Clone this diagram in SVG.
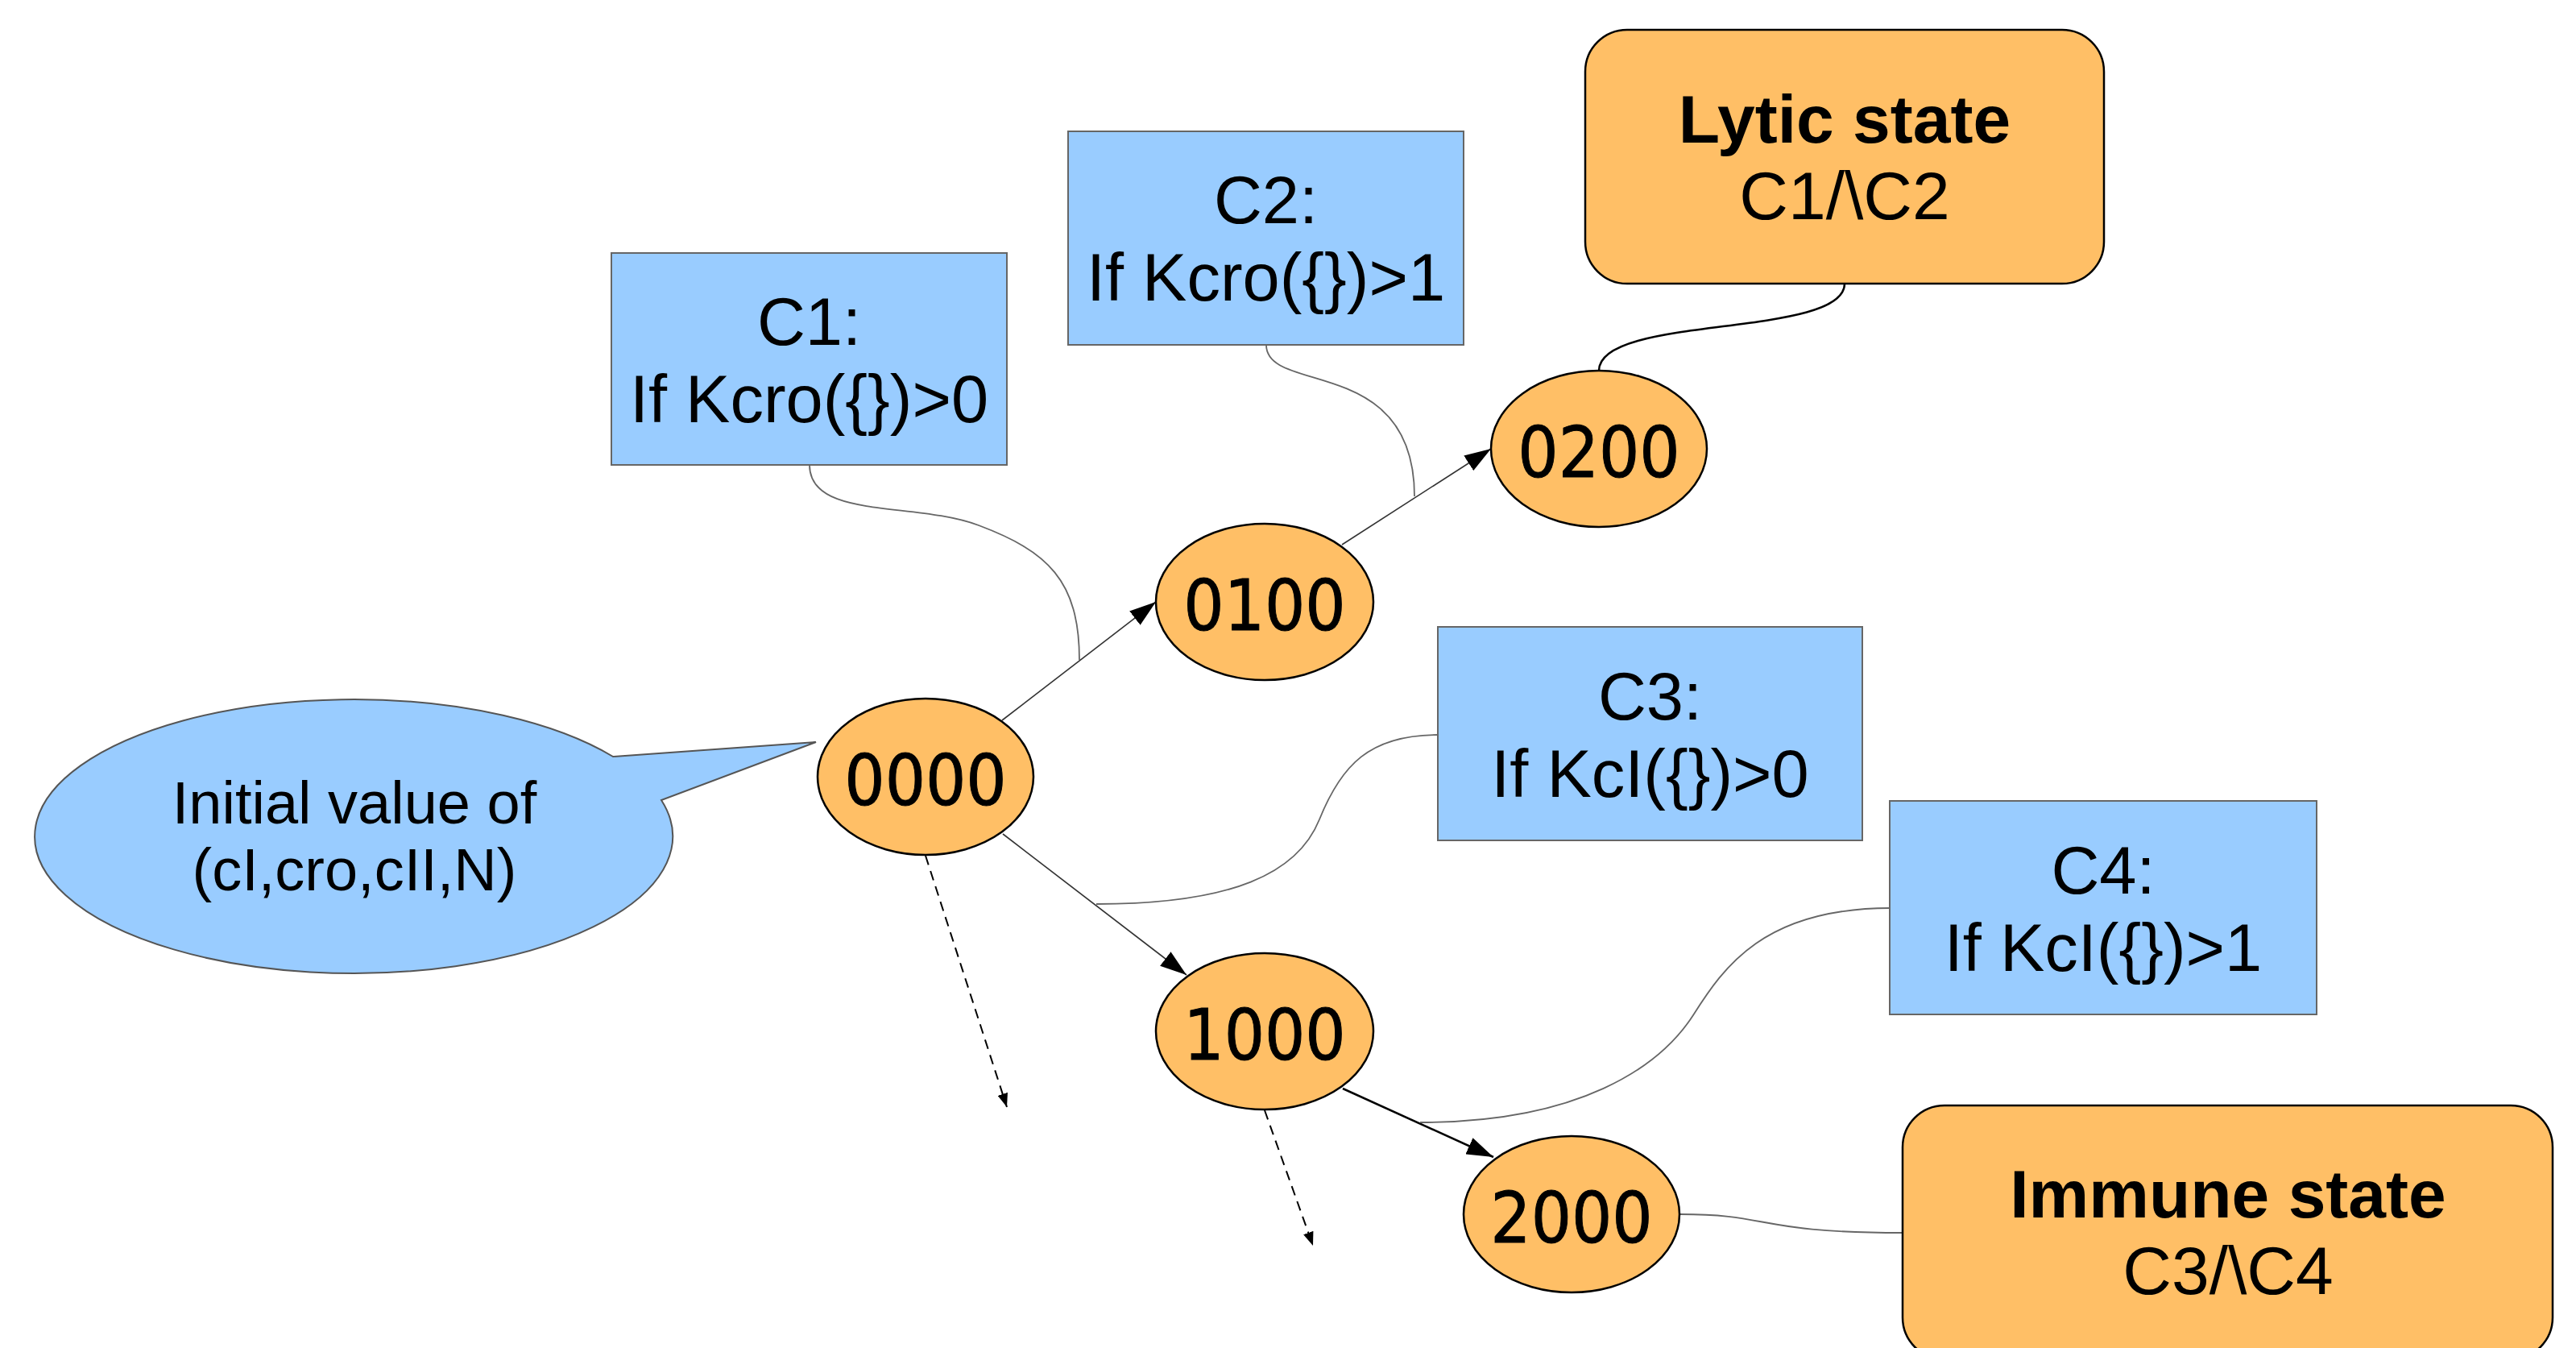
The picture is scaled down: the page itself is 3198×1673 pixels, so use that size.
<svg xmlns="http://www.w3.org/2000/svg" width="3198" height="1673" viewBox="0 0 3198 1673">
  <style>
    .cond { fill: #99ccff; stroke: #666666; stroke-width: 2; }
    .state { fill: #ffbf66; stroke: #000000; stroke-width: 2.5; }
    .node { fill: #ffbf66; stroke: #000000; stroke-width: 2.5; }
    .bubble { fill: #99ccff; stroke: #555555; stroke-width: 2; }
    .t { font-family: "Liberation Sans", Arial, sans-serif; font-size: 83px; fill: #000; text-anchor: middle; }
    .tb { font-family: "Liberation Sans", Arial, sans-serif; font-size: 84px; font-weight: bold; fill: #000; text-anchor: middle; }
    .tbub { font-family: "Liberation Sans", Arial, sans-serif; font-size: 74px; fill: #000; text-anchor: middle; }
    .num { font-family: "DejaVu Sans Condensed", "DejaVu Sans", sans-serif; font-stretch: condensed; font-size: 88px; fill: #000; stroke: #000; stroke-width: 0.9; text-anchor: middle; }
    .arrow { fill: none; stroke: #333333; stroke-width: 1.6; marker-end: url(#ah); }
    .arrowk { fill: none; stroke: #000000; stroke-width: 2.5; marker-end: url(#ah); }
    .dash { fill: none; stroke: #000000; stroke-width: 2; stroke-dasharray: 12 8; marker-end: url(#ahs); }
    .link { fill: none; stroke: #666666; stroke-width: 1.8; }
    .linkk { fill: none; stroke: #000000; stroke-width: 2.5; }
  </style>
  <defs>
    <marker id="ah" markerUnits="userSpaceOnUse" markerWidth="34" markerHeight="22" refX="33" refY="11" orient="auto">
      <path d="M0,0 L33,11 L0,22 z" fill="#000"/>
    </marker>
    <marker id="ahs" markerUnits="userSpaceOnUse" markerWidth="18" markerHeight="13" refX="17" refY="6.5" orient="auto">
      <path d="M0,0 L17,6.5 L0,13 z" fill="#000"/>
    </marker>
  </defs>

  <g id="connectors">
    <line class="arrow" x1="1244" y1="894" x2="1435" y2="747"/>
    <line class="arrow" x1="1666" y1="676" x2="1851" y2="557"/>
    <line class="arrow" x1="1245" y1="1035" x2="1473" y2="1210"/>
    <line class="arrowk" x1="1667" y1="1351" x2="1854" y2="1436"/>
    <line class="dash" x1="1149" y1="1062" x2="1250" y2="1374"/>
    <line class="dash" x1="1570" y1="1378" x2="1630" y2="1546"/>
    <path class="link" d="M1005,577 C1005,645 1135,622 1215,652 C1300,684 1340,720 1340,819"/>
    <path class="link" d="M1572,428 C1572,490 1756,440 1756,616"/>
    <path class="linkk" d="M2290,352 C2290,420 1985,390 1985,460"/>
    <path class="link" d="M1785,912 C1700,912 1665,950 1638,1017 C1611,1084 1530,1122 1361,1122"/>
    <path class="link" d="M2347,1127 C2190,1127 2140,1200 2102,1260 C2060,1325 1960,1393 1763,1393"/>
    <path class="link" d="M2086,1507 C2200,1507 2180,1530 2362,1530"/>
  </g>

  <g id="bubble">
    <path class="bubble" d="M761,939 L1013,921 L821,993 A396,170 0 1 1 761,939 Z"/>
    <text class="tbub" x="440" y="1022">Initial value of</text>
    <text class="tbub" x="440" y="1105">(cI,cro,cII,N)</text>
  </g>

  <g id="c1">
    <rect class="cond" x="759" y="314" width="491" height="263"/>
    <text class="t" x="1004.5" y="428">C1:</text>
    <text class="t" x="1004.5" y="524">If Kcro({})&gt;0</text>
  </g>
  <g id="c2">
    <rect class="cond" x="1326" y="163" width="491" height="265"/>
    <text class="t" x="1571.5" y="277">C2:</text>
    <text class="t" x="1571.5" y="373">If Kcro({})&gt;1</text>
  </g>
  <g id="c3">
    <rect class="cond" x="1785" y="778" width="527" height="265"/>
    <text class="t" x="2048.5" y="893">C3:</text>
    <text class="t" x="2048.5" y="989">If KcI({})&gt;0</text>
  </g>
  <g id="c4">
    <rect class="cond" x="2346" y="994" width="530" height="265"/>
    <text class="t" x="2611" y="1109">C4:</text>
    <text class="t" x="2611" y="1205">If KcI({})&gt;1</text>
  </g>

  <g id="lytic">
    <rect class="state" x="1968" y="37" width="644" height="315" rx="52" ry="52"/>
    <text class="tb" x="2290" y="177">Lytic state</text>
    <text class="t" x="2290" y="272" style="font-size:84px">C1/\C2</text>
  </g>
  <g id="immune">
    <rect class="state" x="2362" y="1372" width="807" height="315" rx="52" ry="52"/>
    <text class="tb" x="2766" y="1511">Immune state</text>
    <text class="t" x="2766" y="1606" style="font-size:84px">C3/\C4</text>
  </g>

  <g id="n0000">
    <ellipse class="node" cx="1149" cy="964" rx="134" ry="97"/>
    <text class="num" x="1149" y="999">0000</text>
  </g>
  <g id="n0100">
    <ellipse class="node" cx="1570" cy="747" rx="135" ry="97"/>
    <text class="num" x="1570" y="782">0100</text>
  </g>
  <g id="n0200">
    <ellipse class="node" cx="1985" cy="557" rx="134" ry="97"/>
    <text class="num" x="1985" y="592">0200</text>
  </g>
  <g id="n1000">
    <ellipse class="node" cx="1570" cy="1280" rx="135" ry="97"/>
    <text class="num" x="1570" y="1315">1000</text>
  </g>
  <g id="n2000">
    <ellipse class="node" cx="1951" cy="1507" rx="134" ry="97"/>
    <text class="num" x="1951" y="1542">2000</text>
  </g>
</svg>
